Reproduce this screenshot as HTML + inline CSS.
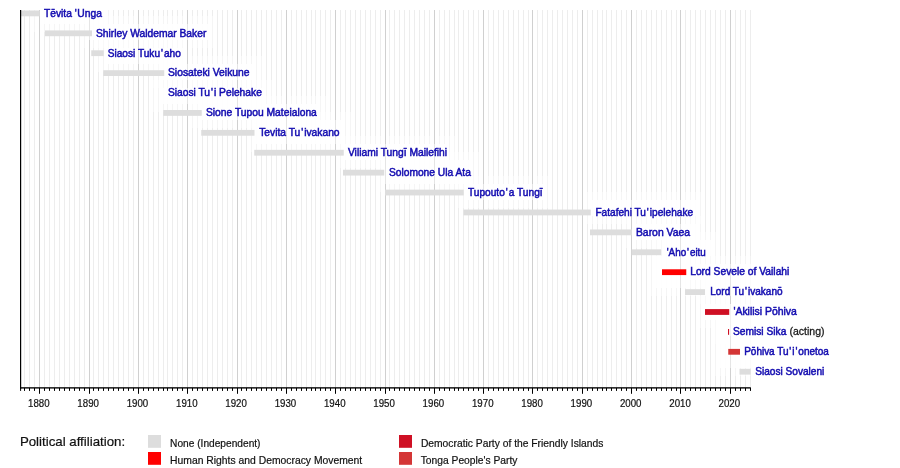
<!DOCTYPE html>
<html lang="en"><head><meta charset="utf-8"><title>Prime Ministers of Tonga timeline</title>
<style>html,body{margin:0;padding:0;background:#fff}svg{display:block}text{font-family:"Liberation Sans",Arial,Helvetica,sans-serif}</style></head><body>
<svg width="900" height="468" viewBox="0 0 900 468">
<rect width="900" height="468" fill="#fff"/>
<path d="M24.5 10.0V388.0M29.5 10.0V388.0M34.5 10.0V388.0M44.5 10.0V388.0M49.5 10.0V388.0M54.5 10.0V388.0M59.5 10.0V388.0M64.5 10.0V388.0M69.5 10.0V388.0M74.5 10.0V388.0M79.5 10.0V388.0M84.5 10.0V388.0M93.5 10.0V388.0M98.5 10.0V388.0M103.5 10.0V388.0M108.5 10.0V388.0M113.5 10.0V388.0M118.5 10.0V388.0M123.5 10.0V388.0M128.5 10.0V388.0M133.5 10.0V388.0M143.5 10.0V388.0M148.5 10.0V388.0M153.5 10.0V388.0M158.5 10.0V388.0M163.5 10.0V388.0M167.5 10.0V388.0M172.5 10.0V388.0M177.5 10.0V388.0M182.5 10.0V388.0M192.5 10.0V388.0M197.5 10.0V388.0M202.5 10.0V388.0M207.5 10.0V388.0M212.5 10.0V388.0M217.5 10.0V388.0M222.5 10.0V388.0M227.5 10.0V388.0M232.5 10.0V388.0M241.5 10.0V388.0M246.5 10.0V388.0M251.5 10.0V388.0M256.5 10.0V388.0M261.5 10.0V388.0M266.5 10.0V388.0M271.5 10.0V388.0M276.5 10.0V388.0M281.5 10.0V388.0M291.5 10.0V388.0M296.5 10.0V388.0M301.5 10.0V388.0M306.5 10.0V388.0M311.5 10.0V388.0M315.5 10.0V388.0M320.5 10.0V388.0M325.5 10.0V388.0M330.5 10.0V388.0M340.5 10.0V388.0M345.5 10.0V388.0M350.5 10.0V388.0M355.5 10.0V388.0M360.5 10.0V388.0M365.5 10.0V388.0M370.5 10.0V388.0M375.5 10.0V388.0M380.5 10.0V388.0M389.5 10.0V388.0M394.5 10.0V388.0M399.5 10.0V388.0M404.5 10.0V388.0M409.5 10.0V388.0M414.5 10.0V388.0M419.5 10.0V388.0M424.5 10.0V388.0M429.5 10.0V388.0M439.5 10.0V388.0M444.5 10.0V388.0M449.5 10.0V388.0M454.5 10.0V388.0M458.5 10.0V388.0M463.5 10.0V388.0M468.5 10.0V388.0M473.5 10.0V388.0M478.5 10.0V388.0M488.5 10.0V388.0M493.5 10.0V388.0M498.5 10.0V388.0M503.5 10.0V388.0M508.5 10.0V388.0M513.5 10.0V388.0M518.5 10.0V388.0M523.5 10.0V388.0M528.5 10.0V388.0M537.5 10.0V388.0M542.5 10.0V388.0M547.5 10.0V388.0M552.5 10.0V388.0M557.5 10.0V388.0M562.5 10.0V388.0M567.5 10.0V388.0M572.5 10.0V388.0M577.5 10.0V388.0M587.5 10.0V388.0M592.5 10.0V388.0M597.5 10.0V388.0M602.5 10.0V388.0M606.5 10.0V388.0M611.5 10.0V388.0M616.5 10.0V388.0M621.5 10.0V388.0M626.5 10.0V388.0M636.5 10.0V388.0M641.5 10.0V388.0M646.5 10.0V388.0M651.5 10.0V388.0M656.5 10.0V388.0M661.5 10.0V388.0M666.5 10.0V388.0M671.5 10.0V388.0M676.5 10.0V388.0M685.5 10.0V388.0M690.5 10.0V388.0M695.5 10.0V388.0M700.5 10.0V388.0M705.5 10.0V388.0M710.5 10.0V388.0M715.5 10.0V388.0M720.5 10.0V388.0M725.5 10.0V388.0M735.5 10.0V388.0M740.5 10.0V388.0M745.5 10.0V388.0M750.5 10.0V388.0" stroke="#ededed" stroke-width="1" fill="none"/>
<rect x="32" y="10.0" width="80" height="22.0" fill="#fff" fill-opacity="0.45"/>
<rect x="80" y="16" width="136" height="32" fill="#fff" fill-opacity="0.45"/>
<rect x="96" y="40" width="96" height="32" fill="#fff" fill-opacity="0.45"/>
<rect x="152" y="56" width="112" height="32" fill="#fff" fill-opacity="0.45"/>
<rect x="152" y="80" width="120" height="32" fill="#fff" fill-opacity="0.45"/>
<rect x="192" y="96" width="136" height="32" fill="#fff" fill-opacity="0.45"/>
<rect x="248" y="112" width="104" height="40" fill="#fff" fill-opacity="0.45"/>
<rect x="336" y="136" width="120" height="32" fill="#fff" fill-opacity="0.45"/>
<rect x="376" y="152" width="104" height="40" fill="#fff" fill-opacity="0.45"/>
<rect x="456" y="176" width="96" height="32" fill="#fff" fill-opacity="0.45"/>
<rect x="584" y="192" width="120" height="32" fill="#fff" fill-opacity="0.45"/>
<rect x="624" y="216" width="80" height="32" fill="#fff" fill-opacity="0.45"/>
<rect x="656" y="232" width="64" height="32" fill="#fff" fill-opacity="0.45"/>
<rect x="680" y="256" width="70.60000000000002" height="32" fill="#fff" fill-opacity="0.45"/>
<rect x="696" y="272" width="54.60000000000002" height="32" fill="#fff" fill-opacity="0.45"/>
<rect x="720" y="296" width="30.600000000000023" height="32" fill="#fff" fill-opacity="0.45"/>
<rect x="720" y="312" width="30.600000000000023" height="32" fill="#fff" fill-opacity="0.45"/>
<rect x="728" y="336" width="22.600000000000023" height="32" fill="#fff" fill-opacity="0.45"/>
<rect x="648" y="248" width="48" height="48" fill="#fff" fill-opacity="0.45"/>
<rect x="696" y="296" width="48" height="32" fill="#fff" fill-opacity="0.45"/>
<rect x="712" y="312" width="32" height="32" fill="#fff" fill-opacity="0.45"/>
<rect x="712" y="328" width="38.60000000000002" height="48" fill="#fff" fill-opacity="0.45"/>
<rect x="40" y="10.0" width="64" height="14.0" fill="#fff" fill-opacity="0.8"/>
<rect x="88" y="24" width="120" height="16" fill="#fff" fill-opacity="0.8"/>
<rect x="104" y="48" width="80" height="16" fill="#fff" fill-opacity="0.8"/>
<rect x="160" y="64" width="96" height="16" fill="#fff" fill-opacity="0.8"/>
<rect x="160" y="88" width="104" height="16" fill="#fff" fill-opacity="0.8"/>
<rect x="200" y="104" width="120" height="16" fill="#fff" fill-opacity="0.8"/>
<rect x="256" y="120" width="88" height="24" fill="#fff" fill-opacity="0.8"/>
<rect x="344" y="144" width="104" height="16" fill="#fff" fill-opacity="0.8"/>
<rect x="384" y="160" width="88" height="24" fill="#fff" fill-opacity="0.8"/>
<rect x="464" y="184" width="80" height="16" fill="#fff" fill-opacity="0.8"/>
<rect x="592" y="200" width="104" height="16" fill="#fff" fill-opacity="0.8"/>
<rect x="632" y="224" width="64" height="16" fill="#fff" fill-opacity="0.8"/>
<rect x="664" y="240" width="48" height="16" fill="#fff" fill-opacity="0.8"/>
<rect x="688" y="264" width="62.60000000000002" height="16" fill="#fff" fill-opacity="0.8"/>
<rect x="704" y="280" width="46.60000000000002" height="16" fill="#fff" fill-opacity="0.8"/>
<rect x="728" y="304" width="22.600000000000023" height="16" fill="#fff" fill-opacity="0.8"/>
<rect x="728" y="320" width="22.600000000000023" height="16" fill="#fff" fill-opacity="0.8"/>
<rect x="736" y="344" width="14.600000000000023" height="16" fill="#fff" fill-opacity="0.8"/>
<rect x="656" y="256" width="32" height="32" fill="#fff" fill-opacity="0.8"/>
<rect x="704" y="304" width="32" height="16" fill="#fff" fill-opacity="0.8"/>
<rect x="720" y="320" width="16" height="16" fill="#fff" fill-opacity="0.8"/>
<rect x="720" y="336" width="30.600000000000023" height="32" fill="#fff" fill-opacity="0.8"/>
<path d="M39.5 10.0V388.0M89.5 10.0V388.0M138.5 10.0V388.0M187.5 10.0V388.0M237.5 10.0V388.0M286.5 10.0V388.0M335.5 10.0V388.0M385.5 10.0V388.0M434.5 10.0V388.0M483.5 10.0V388.0M532.5 10.0V388.0M582.5 10.0V388.0M631.5 10.0V388.0M680.5 10.0V388.0M730.5 10.0V388.0" stroke="#d0d0d0" stroke-width="1" fill="none"/>
<rect x="40" y="10.0" width="64" height="14.0" fill="#fff" fill-opacity="0.45"/>
<rect x="88" y="24" width="120" height="16" fill="#fff" fill-opacity="0.45"/>
<rect x="104" y="48" width="80" height="16" fill="#fff" fill-opacity="0.45"/>
<rect x="160" y="64" width="96" height="16" fill="#fff" fill-opacity="0.45"/>
<rect x="160" y="88" width="104" height="16" fill="#fff" fill-opacity="0.45"/>
<rect x="200" y="104" width="120" height="16" fill="#fff" fill-opacity="0.45"/>
<rect x="256" y="120" width="88" height="24" fill="#fff" fill-opacity="0.45"/>
<rect x="344" y="144" width="104" height="16" fill="#fff" fill-opacity="0.45"/>
<rect x="384" y="160" width="88" height="24" fill="#fff" fill-opacity="0.45"/>
<rect x="464" y="184" width="80" height="16" fill="#fff" fill-opacity="0.45"/>
<rect x="592" y="200" width="104" height="16" fill="#fff" fill-opacity="0.45"/>
<rect x="632" y="224" width="64" height="16" fill="#fff" fill-opacity="0.45"/>
<rect x="664" y="240" width="48" height="16" fill="#fff" fill-opacity="0.45"/>
<rect x="688" y="264" width="62.60000000000002" height="16" fill="#fff" fill-opacity="0.45"/>
<rect x="704" y="280" width="46.60000000000002" height="16" fill="#fff" fill-opacity="0.45"/>
<rect x="728" y="304" width="22.600000000000023" height="16" fill="#fff" fill-opacity="0.45"/>
<rect x="728" y="320" width="22.600000000000023" height="16" fill="#fff" fill-opacity="0.45"/>
<rect x="736" y="344" width="14.600000000000023" height="16" fill="#fff" fill-opacity="0.45"/>
<rect x="656" y="256" width="32" height="32" fill="#fff" fill-opacity="0.45"/>
<rect x="704" y="304" width="32" height="16" fill="#fff" fill-opacity="0.45"/>
<rect x="720" y="320" width="16" height="16" fill="#fff" fill-opacity="0.45"/>
<rect x="720" y="336" width="30.600000000000023" height="32" fill="#fff" fill-opacity="0.45"/>
<rect x="21.00" y="10.50" width="18.70" height="5.8" fill="#dddddd"/>
<rect x="45.00" y="30.41" width="47.00" height="5.8" fill="#dddddd"/>
<rect x="91.25" y="50.31" width="12.50" height="5.8" fill="#dddddd"/>
<rect x="103.25" y="70.22" width="61.00" height="5.8" fill="#dddddd"/>
<rect x="163.25" y="110.03" width="38.50" height="5.8" fill="#dddddd"/>
<rect x="201.25" y="129.94" width="53.25" height="5.8" fill="#dddddd"/>
<rect x="254.25" y="149.84" width="89.50" height="5.8" fill="#dddddd"/>
<rect x="343.00" y="169.75" width="41.25" height="5.8" fill="#dddddd"/>
<rect x="385.00" y="189.65" width="78.75" height="5.8" fill="#dddddd"/>
<rect x="463.50" y="209.56" width="127.25" height="5.8" fill="#dddddd"/>
<rect x="590.00" y="229.47" width="41.75" height="5.8" fill="#dddddd"/>
<rect x="631.75" y="249.37" width="29.50" height="5.8" fill="#dddddd"/>
<rect x="662.00" y="269.28" width="24.25" height="5.8" fill="#ff0000"/>
<rect x="685.00" y="289.18" width="20.00" height="5.8" fill="#dddddd"/>
<rect x="705.00" y="309.09" width="24.25" height="5.8" fill="#cf1024"/>
<rect x="728.00" y="329.00" width="1.10" height="5.8" fill="#cf1024"/>
<rect x="728.25" y="348.90" width="11.75" height="5.8" fill="#d43636"/>
<rect x="739.50" y="368.81" width="11.25" height="5.8" fill="#dddddd"/>
<rect x="20" y="10.0" width="1.2" height="378.8" fill="#000"/>
<rect x="20" y="387.2" width="730.8" height="1.35" fill="#000"/>
<path d="M20.6 388.0v2.9M24.5 388.0v2.9M29.5 388.0v2.9M34.5 388.0v2.9M39.5 388.0v5.8M44.5 388.0v2.9M49.5 388.0v2.9M54.5 388.0v2.9M59.5 388.0v2.9M64.5 388.0v2.9M69.5 388.0v2.9M74.5 388.0v2.9M79.5 388.0v2.9M84.5 388.0v2.9M89.5 388.0v5.8M93.5 388.0v2.9M98.5 388.0v2.9M103.5 388.0v2.9M108.5 388.0v2.9M113.5 388.0v2.9M118.5 388.0v2.9M123.5 388.0v2.9M128.5 388.0v2.9M133.5 388.0v2.9M138.5 388.0v5.8M143.5 388.0v2.9M148.5 388.0v2.9M153.5 388.0v2.9M158.5 388.0v2.9M163.5 388.0v2.9M167.5 388.0v2.9M172.5 388.0v2.9M177.5 388.0v2.9M182.5 388.0v2.9M187.5 388.0v5.8M192.5 388.0v2.9M197.5 388.0v2.9M202.5 388.0v2.9M207.5 388.0v2.9M212.5 388.0v2.9M217.5 388.0v2.9M222.5 388.0v2.9M227.5 388.0v2.9M232.5 388.0v2.9M237.5 388.0v5.8M241.5 388.0v2.9M246.5 388.0v2.9M251.5 388.0v2.9M256.5 388.0v2.9M261.5 388.0v2.9M266.5 388.0v2.9M271.5 388.0v2.9M276.5 388.0v2.9M281.5 388.0v2.9M286.5 388.0v5.8M291.5 388.0v2.9M296.5 388.0v2.9M301.5 388.0v2.9M306.5 388.0v2.9M311.5 388.0v2.9M315.5 388.0v2.9M320.5 388.0v2.9M325.5 388.0v2.9M330.5 388.0v2.9M335.5 388.0v5.8M340.5 388.0v2.9M345.5 388.0v2.9M350.5 388.0v2.9M355.5 388.0v2.9M360.5 388.0v2.9M365.5 388.0v2.9M370.5 388.0v2.9M375.5 388.0v2.9M380.5 388.0v2.9M385.5 388.0v5.8M389.5 388.0v2.9M394.5 388.0v2.9M399.5 388.0v2.9M404.5 388.0v2.9M409.5 388.0v2.9M414.5 388.0v2.9M419.5 388.0v2.9M424.5 388.0v2.9M429.5 388.0v2.9M434.5 388.0v5.8M439.5 388.0v2.9M444.5 388.0v2.9M449.5 388.0v2.9M454.5 388.0v2.9M458.5 388.0v2.9M463.5 388.0v2.9M468.5 388.0v2.9M473.5 388.0v2.9M478.5 388.0v2.9M483.5 388.0v5.8M488.5 388.0v2.9M493.5 388.0v2.9M498.5 388.0v2.9M503.5 388.0v2.9M508.5 388.0v2.9M513.5 388.0v2.9M518.5 388.0v2.9M523.5 388.0v2.9M528.5 388.0v2.9M532.5 388.0v5.8M537.5 388.0v2.9M542.5 388.0v2.9M547.5 388.0v2.9M552.5 388.0v2.9M557.5 388.0v2.9M562.5 388.0v2.9M567.5 388.0v2.9M572.5 388.0v2.9M577.5 388.0v2.9M582.5 388.0v5.8M587.5 388.0v2.9M592.5 388.0v2.9M597.5 388.0v2.9M602.5 388.0v2.9M606.5 388.0v2.9M611.5 388.0v2.9M616.5 388.0v2.9M621.5 388.0v2.9M626.5 388.0v2.9M631.5 388.0v5.8M636.5 388.0v2.9M641.5 388.0v2.9M646.5 388.0v2.9M651.5 388.0v2.9M656.5 388.0v2.9M661.5 388.0v2.9M666.5 388.0v2.9M671.5 388.0v2.9M676.5 388.0v2.9M680.5 388.0v5.8M685.5 388.0v2.9M690.5 388.0v2.9M695.5 388.0v2.9M700.5 388.0v2.9M705.5 388.0v2.9M710.5 388.0v2.9M715.5 388.0v2.9M720.5 388.0v2.9M725.5 388.0v2.9M730.5 388.0v5.8M735.5 388.0v2.9M740.5 388.0v2.9M745.5 388.0v2.9M750.5 388.0v2.9" stroke="#000" stroke-width="1" fill="none"/>
<text x="38.83" y="406.8" font-size="10.4" text-anchor="middle" fill="#111" textLength="21.6" lengthAdjust="spacingAndGlyphs" stroke="#111" stroke-width="0.2">1880</text>
<text x="88.15" y="406.8" font-size="10.4" text-anchor="middle" fill="#111" textLength="21.6" lengthAdjust="spacingAndGlyphs" stroke="#111" stroke-width="0.2">1890</text>
<text x="137.48" y="406.8" font-size="10.4" text-anchor="middle" fill="#111" textLength="21.6" lengthAdjust="spacingAndGlyphs" stroke="#111" stroke-width="0.2">1900</text>
<text x="186.80" y="406.8" font-size="10.4" text-anchor="middle" fill="#111" textLength="21.6" lengthAdjust="spacingAndGlyphs" stroke="#111" stroke-width="0.2">1910</text>
<text x="236.13" y="406.8" font-size="10.4" text-anchor="middle" fill="#111" textLength="21.6" lengthAdjust="spacingAndGlyphs" stroke="#111" stroke-width="0.2">1920</text>
<text x="285.45" y="406.8" font-size="10.4" text-anchor="middle" fill="#111" textLength="21.6" lengthAdjust="spacingAndGlyphs" stroke="#111" stroke-width="0.2">1930</text>
<text x="334.78" y="406.8" font-size="10.4" text-anchor="middle" fill="#111" textLength="21.6" lengthAdjust="spacingAndGlyphs" stroke="#111" stroke-width="0.2">1940</text>
<text x="384.10" y="406.8" font-size="10.4" text-anchor="middle" fill="#111" textLength="21.6" lengthAdjust="spacingAndGlyphs" stroke="#111" stroke-width="0.2">1950</text>
<text x="433.42" y="406.8" font-size="10.4" text-anchor="middle" fill="#111" textLength="21.6" lengthAdjust="spacingAndGlyphs" stroke="#111" stroke-width="0.2">1960</text>
<text x="482.75" y="406.8" font-size="10.4" text-anchor="middle" fill="#111" textLength="21.6" lengthAdjust="spacingAndGlyphs" stroke="#111" stroke-width="0.2">1970</text>
<text x="532.07" y="406.8" font-size="10.4" text-anchor="middle" fill="#111" textLength="21.6" lengthAdjust="spacingAndGlyphs" stroke="#111" stroke-width="0.2">1980</text>
<text x="581.40" y="406.8" font-size="10.4" text-anchor="middle" fill="#111" textLength="21.6" lengthAdjust="spacingAndGlyphs" stroke="#111" stroke-width="0.2">1990</text>
<text x="630.72" y="406.8" font-size="10.4" text-anchor="middle" fill="#111" textLength="21.6" lengthAdjust="spacingAndGlyphs" stroke="#111" stroke-width="0.2">2000</text>
<text x="680.05" y="406.8" font-size="10.4" text-anchor="middle" fill="#111" textLength="21.6" lengthAdjust="spacingAndGlyphs" stroke="#111" stroke-width="0.2">2010</text>
<text x="729.37" y="406.8" font-size="10.4" text-anchor="middle" fill="#111" textLength="21.6" lengthAdjust="spacingAndGlyphs" stroke="#111" stroke-width="0.2">2020</text>
<text x="43.95" y="16.70" font-size="10.5" fill="#130cb0" textLength="57.90" lengthAdjust="spacingAndGlyphs" stroke="#130cb0" stroke-width="0.5">Tēvita '<tspan dx="0.6">Unga</tspan></text>
<text x="95.95" y="36.61" font-size="10.5" fill="#130cb0" textLength="110.40" lengthAdjust="spacingAndGlyphs" stroke="#130cb0" stroke-width="0.5">Shirley Waldemar Baker</text>
<text x="107.70" y="56.51" font-size="10.5" fill="#130cb0" textLength="73.15" lengthAdjust="spacingAndGlyphs" stroke="#130cb0" stroke-width="0.5">Siaosi Tuku<tspan dx="0.9">'</tspan><tspan dx="1.1">aho</tspan></text>
<text x="167.95" y="76.42" font-size="10.5" fill="#130cb0" textLength="81.65" lengthAdjust="spacingAndGlyphs" stroke="#130cb0" stroke-width="0.5">Siosateki Veikune</text>
<text x="167.95" y="96.32" font-size="10.5" fill="#130cb0" textLength="93.90" lengthAdjust="spacingAndGlyphs" stroke="#130cb0" stroke-width="0.5">Siaosi Tu<tspan dx="0.9">'</tspan><tspan dx="1.1">i Pelehake</tspan></text>
<text x="205.95" y="116.23" font-size="10.5" fill="#130cb0" textLength="110.90" lengthAdjust="spacingAndGlyphs" stroke="#130cb0" stroke-width="0.5">Sione Tupou Mateialona</text>
<text x="259.20" y="136.14" font-size="10.5" fill="#130cb0" textLength="80.40" lengthAdjust="spacingAndGlyphs" stroke="#130cb0" stroke-width="0.5">Tevita Tu<tspan dx="0.9">'</tspan><tspan dx="1.1">ivakano</tspan></text>
<text x="347.95" y="156.04" font-size="10.5" fill="#130cb0" textLength="99.15" lengthAdjust="spacingAndGlyphs" stroke="#130cb0" stroke-width="0.5">Viliami Tungī Mailefihi</text>
<text x="388.95" y="175.95" font-size="10.5" fill="#130cb0" textLength="81.90" lengthAdjust="spacingAndGlyphs" stroke="#130cb0" stroke-width="0.5">Solomone Ula Ata</text>
<text x="467.95" y="195.85" font-size="10.5" fill="#130cb0" textLength="74.65" lengthAdjust="spacingAndGlyphs" stroke="#130cb0" stroke-width="0.5">Tupouto<tspan dx="0.9">'</tspan><tspan dx="1.1">a Tungī</tspan></text>
<text x="595.45" y="215.76" font-size="10.5" fill="#130cb0" textLength="97.65" lengthAdjust="spacingAndGlyphs" stroke="#130cb0" stroke-width="0.5">Fatafehi Tu<tspan dx="0.9">'</tspan><tspan dx="1.1">ipelehake</tspan></text>
<text x="635.95" y="235.67" font-size="10.5" fill="#130cb0" textLength="54.15" lengthAdjust="spacingAndGlyphs" stroke="#130cb0" stroke-width="0.5">Baron Vaea</text>
<text x="666.70" y="255.57" font-size="10.5" fill="#130cb0" textLength="39.15" lengthAdjust="spacingAndGlyphs" stroke="#130cb0" stroke-width="0.5">'Aho<tspan dx="0.9">'</tspan><tspan dx="1.1">eitu</tspan></text>
<text x="690.20" y="275.48" font-size="10.5" fill="#130cb0" textLength="99.15" lengthAdjust="spacingAndGlyphs" stroke="#130cb0" stroke-width="0.5">Lord Sevele of Vailahi</text>
<text x="710.20" y="295.38" font-size="10.5" fill="#130cb0" textLength="72.40" lengthAdjust="spacingAndGlyphs" stroke="#130cb0" stroke-width="0.5">Lord Tu<tspan dx="0.9">'</tspan><tspan dx="1.1">ivakanō</tspan></text>
<text x="733.45" y="315.29" font-size="10.5" fill="#130cb0" textLength="63.40" lengthAdjust="spacingAndGlyphs" stroke="#130cb0" stroke-width="0.5">'Akilisi Pōhiva</text>
<text x="732.95" y="335.20" font-size="10.5" fill="#130cb0" textLength="53.40" lengthAdjust="spacingAndGlyphs" stroke="#130cb0" stroke-width="0.5">Semisi Sika</text>
<text x="789.5" y="335.20" font-size="10.5" fill="#1a1a1a" stroke="#1a1a1a" stroke-width="0.3" textLength="35" lengthAdjust="spacingAndGlyphs">(acting)</text>
<text x="744.20" y="355.10" font-size="10.5" fill="#130cb0" textLength="84.65" lengthAdjust="spacingAndGlyphs" stroke="#130cb0" stroke-width="0.5">Pōhiva Tu<tspan dx="0.9">'</tspan><tspan dx="1.1">i</tspan><tspan dx="0.9">'</tspan><tspan dx="1.1">onetoa</tspan></text>
<text x="755.20" y="375.01" font-size="10.5" fill="#130cb0" textLength="69.15" lengthAdjust="spacingAndGlyphs" stroke="#130cb0" stroke-width="0.5">Siaosi Sovaleni</text>
<text x="19.9" y="445.9" font-size="13" fill="#111" stroke="#111" stroke-width="0.2" textLength="105.2" lengthAdjust="spacingAndGlyphs">Political affiliation:</text>
<rect x="148" y="435" width="13" height="12.8" fill="#dddddd"/>
<text x="170.10" y="447.0" font-size="10.4" fill="#111" stroke="#111" stroke-width="0.2" textLength="90.40" lengthAdjust="spacingAndGlyphs">None (Independent)</text>
<rect x="148" y="452" width="13" height="12.8" fill="#ff0000"/>
<text x="170.10" y="463.8" font-size="10.4" fill="#111" stroke="#111" stroke-width="0.2" textLength="192.10" lengthAdjust="spacingAndGlyphs">Human Rights and Democracy Movement</text>
<rect x="399" y="435" width="13" height="12.8" fill="#cf1024"/>
<text x="420.90" y="447.0" font-size="10.4" fill="#111" stroke="#111" stroke-width="0.2" textLength="182.50" lengthAdjust="spacingAndGlyphs">Democratic Party of the Friendly Islands</text>
<rect x="399" y="452" width="13" height="12.8" fill="#d43636"/>
<text x="420.70" y="463.8" font-size="10.4" fill="#111" stroke="#111" stroke-width="0.2" textLength="96.80" lengthAdjust="spacingAndGlyphs">Tonga People's Party</text>
</svg></body></html>
